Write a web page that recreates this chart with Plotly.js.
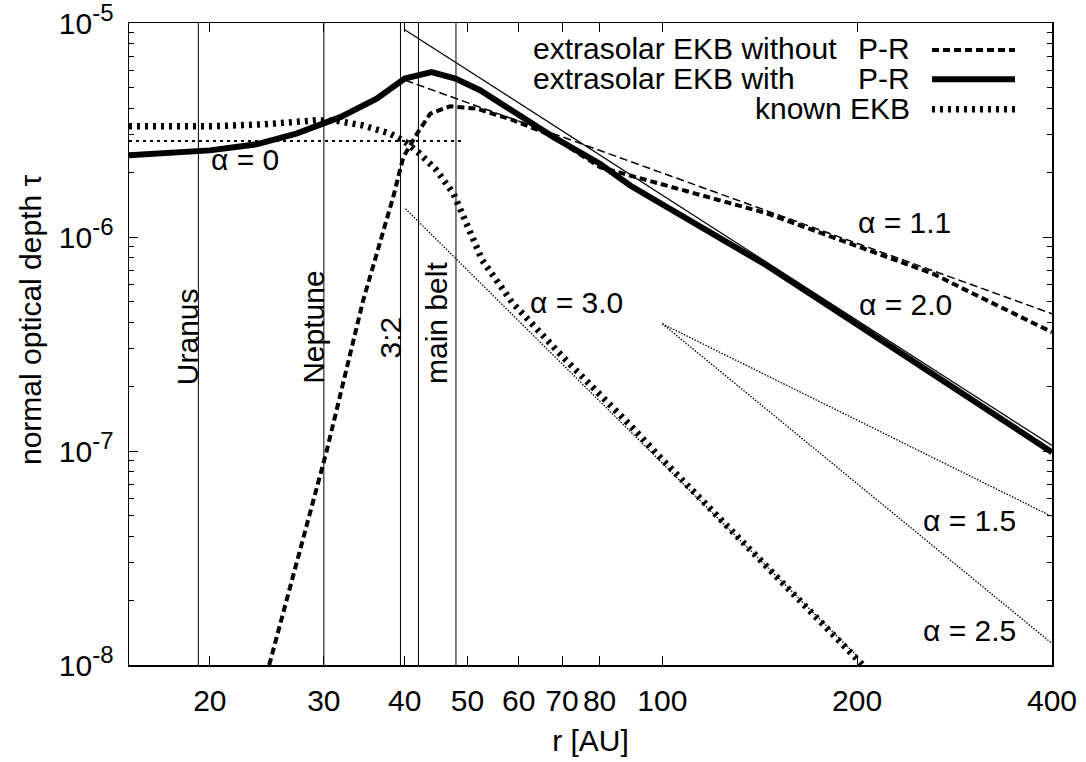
<!DOCTYPE html>
<html><head><meta charset="utf-8">
<script src="https://cdn.plot.ly/plotly-3.0.1.min.js"></script>
<style>html,body{margin:0;padding:0;background:#fff}</style>
</head><body>
<div id="chart" style="width:1086px;height:762px"></div>
<script>
// ---------- data ----------
const withPR_r   = [15, 20.0, 23.6, 27.2, 31.8, 36.2, 40.0, 44.0, 47.9, 52.3, 67.9, 80.1, 89.2, 145, 200, 262, 400];
const withPR_tau = [2.41e-6, 2.54e-6, 2.71e-6, 3.04e-6, 3.63e-6, 4.43e-6, 5.50e-6, 5.90e-6, 5.50e-6, 4.85e-6, 2.93e-6, 2.20e-6, 1.74e-6, 7.36e-7, 3.9e-7, 2.3e-7, 9.87e-8];

const noPR_r   = [24.7, 30.3, 34.5, 38.4, 39.8, 41.8, 43.8, 47.0, 51.7, 58.9, 67.1, 80.1, 145, 195, 262, 295, 400];
const noPR_tau = [1.0e-8, 1.0e-7, 5.05e-7, 1.54e-6, 2.36e-6, 3.04e-6, 3.77e-6, 4.08e-6, 3.98e-6, 3.51e-6, 3.0e-6, 2.12e-6, 1.29e-6, 9.31e-7, 6.74e-7, 5.63e-7, 3.59e-7];

const known_r   = [15, 20, 24.2, 29.2, 31.4, 34.5, 38.0, 40.1, 42.2, 44.8, 47.6, 52.7, 58.6, 70.3, 89.2, 99.2, 204];
const known_tau = [3.29e-6, 3.29e-6, 3.36e-6, 3.51e-6, 3.49e-6, 3.32e-6, 3.04e-6, 2.78e-6, 2.45e-6, 2.05e-6, 1.59e-6, 7.8e-7, 4.95e-7, 2.74e-7, 1.32e-7, 9.35e-8, 1.0e-8];

// power-law guide lines (end points)
const alpha0_r  = [15, 49.3],   alpha0_tau  = [2.81e-6, 2.81e-6];
const alpha11_r = [40.1, 400],  alpha11_tau = [5.40e-6, 4.38e-7];
const alpha20_r = [40.0, 400],  alpha20_tau = [9.31e-6, 1.06e-7];
const alpha30_r = [40.1, 200],  alpha30_tau = [1.356e-6, 1.1e-8];
const alpha15_r = [100, 400],   alpha15_tau = [3.93e-7, 4.94e-8];
const alpha25_r = [100, 400],   alpha25_tau = [3.93e-7, 1.26e-8];

// vertical markers
const vline_r = [19.2, 30, 39.4, 42, 48];
const vline_labels = ['Uranus', 'Neptune', '3:2', 'main belt'];

// axes
const xTickVals = [20, 30, 40, 50, 60, 70, 80, 100, 200, 400];
const xTickText = ['20', '30', '40', '50', '60', '70', '80', '100', '200', '400'];
const yTickVals = [1e-8, 1e-7, 1e-6, 1e-5];
const yTickExp  = ['-8', '-7', '-6', '-5'];
const yRange = [1e-8, 1e-5];

const legendText = ['extrasolar EKB without', 'extrasolar EKB with', 'known EKB'];

// ---------- styling / layout ----------
const FONT = 'Liberation Sans, Arial, Helvetica, sans-serif';
const FS = 30;
const L = 129, R = 1052, T = 23, B = 665;
const px = x => (x - L) / (R - L);
const py = y => (B - y) / (B - T);

const styles = {
  withPR: {color: '#000', width: 6},
  noPR:   {color: '#000', width: 4, dash: '7px,4px'},
  known:  {color: '#000', width: 6.5, dash: '3px,5px'},
  thinDash: {color: '#000', width: 1.5, dash: '8px,4px'},
  fineDot:  {color: '#000', width: 1.3, dash: '1.5px,1.5px'},
  coarseDot:{color: '#000', width: 2, dash: '3px,4px'},
  thin:     {color: '#000', width: 1.2}
};

const vx = [], vy = [];
vline_r.forEach(r => { vx.push(r, r, null); vy.push(yRange[0], yRange[1], null); });

const traces = [
  {x: vx, y: vy, mode: 'lines', line: {color: '#000', width: 1}, name: 'markers', hoverinfo: 'skip'},
  {x: alpha0_r,  y: alpha0_tau,  mode: 'lines', line: styles.coarseDot, name: 'α = 0'},
  {x: alpha11_r, y: alpha11_tau, mode: 'lines', line: styles.thinDash,  name: 'α = 1.1'},
  {x: alpha20_r, y: alpha20_tau, mode: 'lines', line: styles.thin,      name: 'α = 2.0'},
  {x: alpha30_r, y: alpha30_tau, mode: 'lines', line: styles.fineDot,   name: 'α = 3.0'},
  {x: alpha15_r, y: alpha15_tau, mode: 'lines', line: styles.fineDot,   name: 'α = 1.5'},
  {x: alpha25_r, y: alpha25_tau, mode: 'lines', line: styles.fineDot,   name: 'α = 2.5'},
  {x: known_r,  y: known_tau,  mode: 'lines', line: styles.known,  name: 'known EKB'},
  {x: noPR_r,   y: noPR_tau,   mode: 'lines', line: styles.noPR,   name: 'extrasolar EKB without P-R'},
  {x: withPR_r, y: withPR_tau, mode: 'lines', line: styles.withPR, name: 'extrasolar EKB with P-R'}
];

const tf = {family: FONT, size: FS, color: '#000'};
const ann = (text, x, y, extra) => Object.assign({text, x: px(x), y: py(y), xref: 'paper', yref: 'paper',
  showarrow: false, font: tf, xanchor: 'center', yanchor: 'middle'}, extra || {});

const annotations = [
  ann('α = 0', 245, 160),
  ann('α = 3.0', 576.7, 302.5),
  ann('α = 1.1', 904, 222.5),
  ann('α = 2.0', 905.5, 304),
  ann('α = 1.5', 969, 520),
  ann('α = 2.5', 969, 630),
  ann(vline_labels[0], 187.5, 336.7, {textangle: -90}),
  ann(vline_labels[1], 313.3, 327.5, {textangle: -90}),
  ann(vline_labels[2], 390, 337.5, {textangle: -90}),
  ann(vline_labels[3], 436.7, 323.3, {textangle: -90}),
  // legend
  ann(legendText[0], 531, 48.5, {xanchor: 'left'}),
  ann('P-R', 912, 48.5, {xanchor: 'right'}),
  ann(legendText[1], 531, 78.5, {xanchor: 'left'}),
  ann('P-R', 912, 78.5, {xanchor: 'right'}),
  ann(legendText[2], 912, 108.5, {xanchor: 'right'}),
  // y axis title
  ann('normal optical depth τ', 30, 320, {textangle: -90})
];

const legLine = (y, st) => ({type: 'line', xref: 'paper', yref: 'paper', x0: px(932), x1: px(1015), y0: py(y), y1: py(y), line: st});
const shapes = [legLine(50, styles.noPR), legLine(79.3, styles.withPR), legLine(109.3, styles.known)];

const yMinor = [];
yTickVals.slice(0, 3).forEach(d => { for (let k = 2; k <= 9; k++) yMinor.push(k * d); });
const yTickText = yTickExp.map(e => '10<sup><span style="font-size:24px">' + e + '</span></sup>');

const layout = {
  width: 1086, height: 762,
  margin: {l: L, r: 1086 - R, t: T, b: 762 - B, pad: 0},
  paper_bgcolor: '#fff', plot_bgcolor: '#fff',
  showlegend: false,
  font: tf,
  xaxis: {
    type: 'log', range: [Math.log10(15), Math.log10(400)],
    tickmode: 'array', tickvals: xTickVals, ticktext: xTickText,
    ticks: 'inside', ticklen: 9, tickwidth: 1, tickcolor: '#000',
    showline: true, linecolor: '#000', linewidth: 1.5, mirror: 'ticks',
    showgrid: false, zeroline: false, tickfont: tf, ticklabelstandoff: 8,
    ticklabeloverflow: 'allow',
    title: {text: 'r [AU]', font: tf, standoff: 14}, automargin: false
  },
  yaxis: {
    type: 'log', range: [-8, -5],
    tickmode: 'array', tickvals: yTickVals, ticktext: yTickText,
    ticks: 'inside', ticklen: 9, tickwidth: 1, tickcolor: '#000',
    minor: {tickmode: 'array', tickvals: yMinor, ticks: 'inside', ticklen: 5, tickwidth: 1, tickcolor: '#000', showgrid: false},
    showline: true, linecolor: '#000', linewidth: 1.5, mirror: 'ticks',
    showgrid: false, zeroline: false, tickfont: tf, ticklabelstandoff: 8,
    ticklabeloverflow: 'allow', automargin: false
  },
  annotations, shapes
};

Plotly.newPlot('chart', traces, layout, {displayModeBar: false, staticPlot: true});
</script>
</body></html>
